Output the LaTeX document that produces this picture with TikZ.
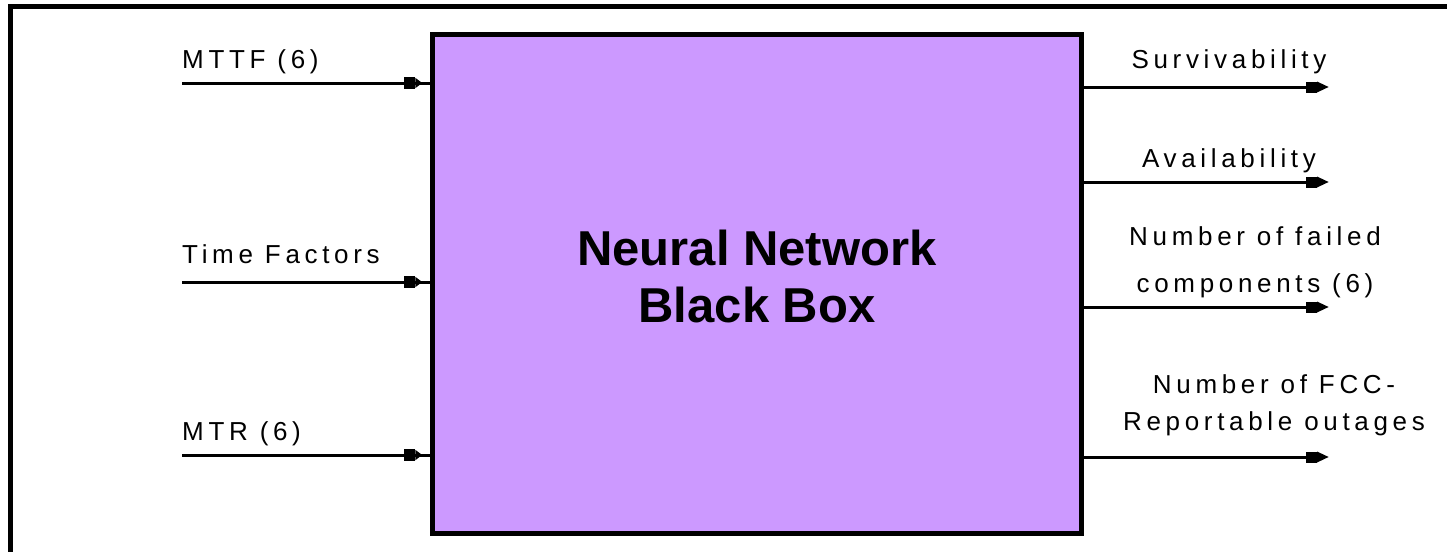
\documentclass[tikz,border=0pt]{standalone}
\usepackage{fontspec}
\setmainfont{Liberation Sans}
\usetikzlibrary{arrows.meta,decorations.markings,positioning}
\definecolor{boxpurple}{RGB}{204,153,255}

\begin{document}
\begin{tikzpicture}[x=1pt, y=-1pt,
      blackbox/.style = {draw, line width=4.5pt, fill=boxpurple, minimum width=649pt,
        minimum height=499pt, align=center, text depth=16pt,
        font=\fontsize{49}{57}\selectfont\bfseries},
      lbl/.style = {inner sep=0pt, align=center,
        font=\fontsize{26}{40}\selectfont\addfontfeature{LetterSpace=18}},
      blob/.tip = {Square[length=11pt,width=11pt,sep=0pt] Triangle[length=12pt,width=10pt]},
      inblob/.tip = {Square[length=11pt,width=12pt,sep=0pt] Triangle[length=7pt,width=10pt]},
      inwire/.style = {line width=3pt, postaction={decorate},
        decoration={markings, mark=at position -8pt with {\arrow{inblob}}}},
      outwire/.style = {line width=3pt, -blob},
      frame/.style = {line width=4.5pt}]
      \useasboundingbox (0,0) rectangle (1447,551);
      \draw[frame] (10.5,560) -- (10.5,6.5) -- (1460,6.5);

      \node[blackbox] (nn) at (757,284) {Neural Network\\Black Box};

      % inputs
      \coordinate (mttf) at (182,83);
      \coordinate (time) at (182,282);
      \coordinate (mtr) at (182,455);
      \node[lbl, anchor=base west] (mttflbl) at ([yshift=15pt]mttf) {MTTF (6)};
      \node[lbl, anchor=base west] (timelbl) at ([yshift=19pt]time) {Time Factors};
      \node[lbl, anchor=base west] (mtrlbl) at ([yshift=15pt]mtr) {MTR (6)};
      \draw[inwire] (mttf) -- (mttf -| nn.west);
      \draw[inwire] (time) -- (time -| nn.west);
      \draw[inwire] (mtr) -- (mtr -| nn.west);

      % outputs
      \coordinate (surv) at (1329,87);
      \coordinate (avail) at (1329,182);
      \coordinate (failed) at (1329,307);
      \coordinate (fcc) at (1329,457);
      \node[lbl, anchor=base] (survlbl) at (1229,68) {Survivability};
      \node[lbl, anchor=base] (availlbl) at (1229,167) {Availability};
      \node[lbl, anchor=base, font=\fontsize{26}{47}\selectfont\addfontfeature{LetterSpace=18}]
        (failedlbl) at (1255,292) {Number of failed\\components (6)};
      \node[lbl, anchor=base, font=\fontsize{26}{37}\selectfont\addfontfeature{LetterSpace=18}]
        (fcclbl) at (1274,430) {Number of FCC-\\Reportable outages};
      \draw[outwire] (surv -| nn.east) -- (surv);
      \draw[outwire] (avail -| nn.east) -- (avail);
      \draw[outwire] (failed -| nn.east) -- (failed);
      \draw[outwire] (fcc -| nn.east) -- (fcc);
    \end{tikzpicture}
\end{document}
